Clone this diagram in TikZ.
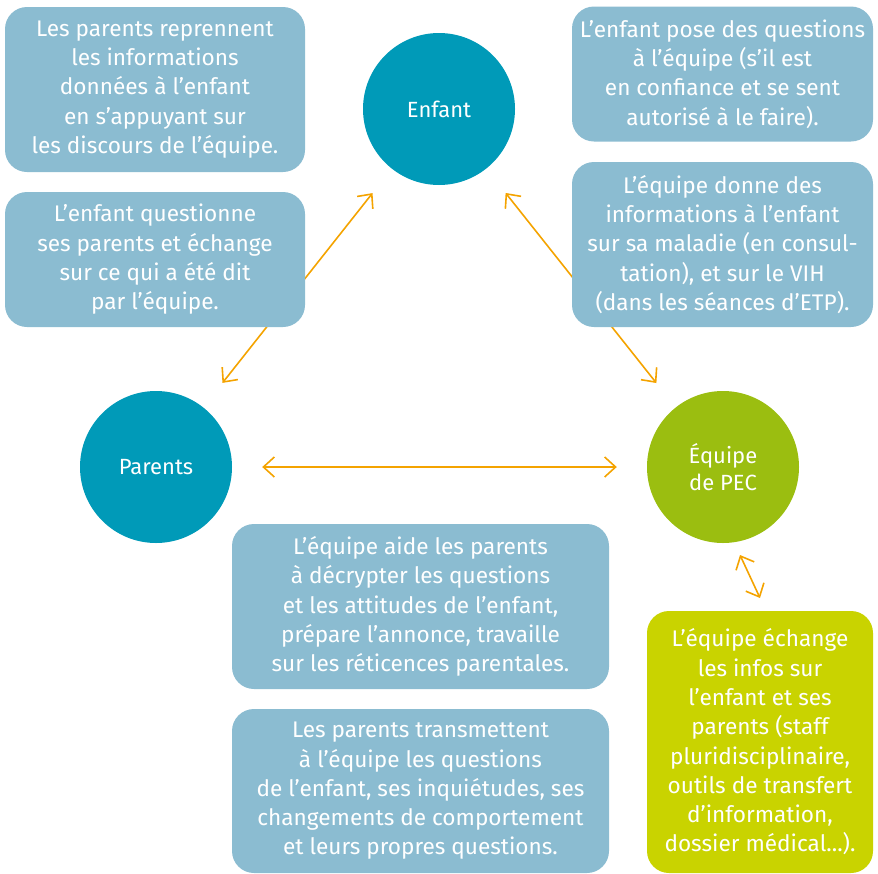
\documentclass[tikz,border=0pt]{standalone}
\usepackage{fontspec}
\setmainfont{Fira Sans}
\usetikzlibrary{arrows.meta}
\definecolor{boxblue}{HTML}{8BBCD1}
\definecolor{teal}{HTML}{009AB8}
\definecolor{pecgreen}{HTML}{9BBE10}
\definecolor{boxgreen}{HTML}{C9D300}
\definecolor{arrorange}{HTML}{F4A300}
\tikzset{
  infobox/.style={rounded corners=22pt, fill=boxblue, text=white, align=center, inner sep=0pt,
    font=\fontsize{22.6}{29.3}\selectfont},
  actor/.style={circle, fill=teal, text=white, align=center, inner sep=0pt, minimum size=152pt,
    font=\fontsize{22}{27}\selectfont},
  link/.style={draw=arrorange, line width=1.6pt, {Straight Barb[length=11pt,width=20pt]}-{Straight Barb[length=11pt,width=20pt]}}
}
\begin{document}
\begin{tikzpicture}[x=1pt,y=-1pt]
\useasboundingbox (0,0) rectangle (878,873);
% circles
\node[actor] (enfant) at (439,109) {Enfant};
\node[actor] (parents) at (156,467) {Parents};
\node[actor, fill=pecgreen] (equipe) at (723,467) {Équipe\\de PEC};
% connectors
\draw[link, shorten <=31pt, shorten >=31pt] (enfant) -- (parents);
\draw[link, shorten <=31pt, shorten >=31pt] (enfant) -- (equipe);
\draw[link, shorten <=30pt, shorten >=30pt] (parents) -- (equipe);
% boxes
\node[infobox, minimum width=300pt, minimum height=165pt] (b1) at (155,89.5)
  {Les parents reprennent\\les informations\\données à l’enfant\\en s’appuyant sur\\les discours de l’équipe.};
\node[infobox, minimum width=300pt, minimum height=135pt] (b2) at (155,259.5)
  {L’enfant questionne\\ses parents et échange\\sur ce qui a été dit\\par l’équipe.};
\node[infobox, minimum width=301pt, minimum height=135pt] (b3) at (722.5,74)
  {L’enfant pose des questions\\à l’équipe (s’il est\\en confiance et se sent\\autorisé à le faire).};
\node[infobox, minimum width=301pt, minimum height=165pt] (b4) at (722.5,244.5)
  {L’équipe donne des\\informations à l’enfant\\sur sa maladie (en consul-\\tation), et sur le VIH\\(dans les séances d’ETP).};
\node[infobox, minimum width=377pt, minimum height=165pt] (b5) at (420.5,606.5)
  {L’équipe aide les parents\\à décrypter les questions\\et les attitudes de l’enfant,\\prépare l’annonce, travaille\\sur les réticences parentales.};
\node[infobox, minimum width=377pt, minimum height=164pt] (b6) at (420.5,791)
  {Les parents transmettent\\à l’équipe les questions\\de l’enfant, ses inquiétudes, ses\\changements de comportement\\et leurs propres questions.};
\node[infobox, fill=boxgreen, minimum width=226pt, minimum height=262pt] (g) at (760,742)
  {L’équipe échange\\les infos sur\\l’enfant et ses\\parents (staff\\pluridisciplinaire,\\outils de transfert\\d’information,\\dossier médical...).};
\coordinate (g1) at ([shift={(17,88)}]equipe.center);
\coordinate (g2) at ([shift={(0,-144)}]g.center);
\draw[link] (g1) -- (g2);
\end{tikzpicture}
\end{document}
